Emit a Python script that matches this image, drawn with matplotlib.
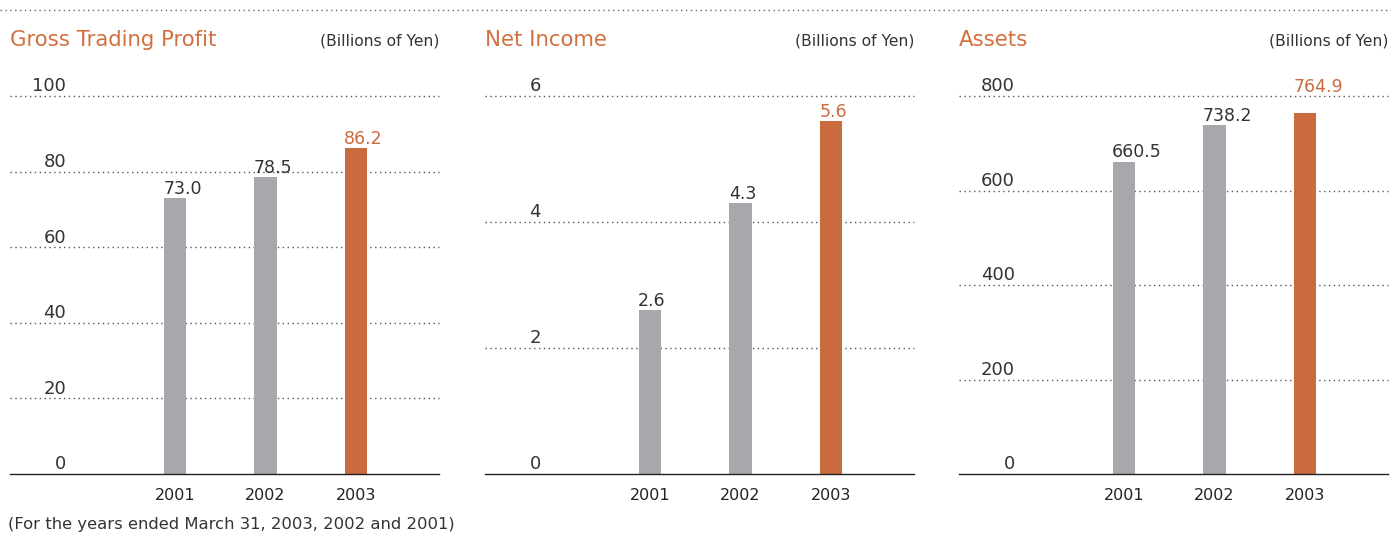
import matplotlib
matplotlib.use("Agg")
import matplotlib.pyplot as plt
from matplotlib.lines import Line2D
from matplotlib import transforms

# Figures for the three panels (billions of yen)
years = ["2001", "2002", "2003"]
gross_profit = [73.0, 78.5, 86.2]
net_income = [2.6, 4.3, 5.6]
assets = [660.5, 738.2, 764.9]

titles = ["Gross Trading Profit", "Net Income", "Assets"]
unit_label = "(Billions of Yen)"
gross_ticks = [0, 20, 40, 60, 80, 100]
income_ticks = [0, 2, 4, 6]
asset_ticks = [0, 200, 400, 600, 800]
footnote = "(For the years ended March 31, 2003, 2002 and 2001)"

GRAY = "#a7a8ab"
ORANGE = "#c96b3e"
TITLE_ORANGE = "#d2703f"
TEXT = "#333333"

W, H = 1391, 534
fig = plt.figure(figsize=(W / 100, H / 100), dpi=100)

panels = [
    (10, gross_profit, gross_ticks, "{:.1f}", [0, 0, 0]),
    (485, net_income, income_ticks, "{:.1f}", [0, 0, 0]),
    (959, assets, asset_ticks, "{:.1f}", [0, 0, 12]),
]

ax_w, ax_bottom, ax_top = 429, 474, 96
spacing = 90.5
first_bar = 165

for (left, values, ticks, fmt, lift), title in zip(panels, titles):
    ax = fig.add_axes([left / W, 1 - ax_bottom / H, ax_w / W, (ax_bottom - ax_top) / H])
    x = list(range(len(values)))
    colors = [GRAY] * (len(values) - 1) + [ORANGE]
    ax.bar(x, values, width=0.25, color=colors, zorder=3)
    ax.set_xlim(-first_bar / spacing, (ax_w - first_bar) / spacing)
    ax.set_ylim(0, ticks[-1])
    for s in ax.spines.values():
        s.set_visible(False)
    ax.set_xticks([])
    ax.set_yticks([])

    # gridlines and their labels sitting on top of the lines
    lab_tr = transforms.blended_transform_factory(ax.transAxes, ax.transData)
    for t in ticks:
        if t == 0:
            ax.axhline(t, color="#222222", lw=1.0, zorder=4, clip_on=False)
        else:
            ax.axhline(t, color="#555555", lw=1.0, ls=(0, (1, 2.5)), zorder=1, clip_on=False)
        ax.annotate(str(t), (56 / ax_w, t), xycoords=lab_tr, xytext=(0, 0.5),
                    textcoords="offset points", ha="right", va="bottom",
                    fontsize=13, color=TEXT)

    # value labels, left-aligned to the bar edge
    for i, (v, up) in enumerate(zip(values, lift)):
        c = ORANGE if i == len(values) - 1 else TEXT
        ax.annotate(fmt.format(v), (i - 0.13, v), xytext=(0, 0.3 + up),
                    textcoords="offset points", ha="left", va="bottom",
                    fontsize=12.5, color=c, annotation_clip=False)

    year_tr = transforms.blended_transform_factory(ax.transData, ax.transAxes)
    for i, y in enumerate(years):
        ax.text(i, -21 / (ax_bottom - ax_top), y, transform=year_tr, ha="center",
                va="center", fontsize=11.5, color="#222222")

    fig.text(left / W, 1 - 40 / H, title, ha="left", va="center",
             fontsize=15.3, color=TITLE_ORANGE)
    fig.text((left + ax_w) / W, 1 - 41 / H, unit_label, ha="right", va="center",
             fontsize=11.2, color=TEXT)

fig.add_artist(Line2D([0, 1], [1 - 10 / H] * 2, transform=fig.transFigure,
                      color="#666666", lw=1.0, ls=(0, (1, 2.5))))
fig.text(8 / W, 1 - 524 / H, footnote, ha="left", va="center", fontsize=11.8, color=TEXT)

fig.savefig("out.png", dpi=100)
